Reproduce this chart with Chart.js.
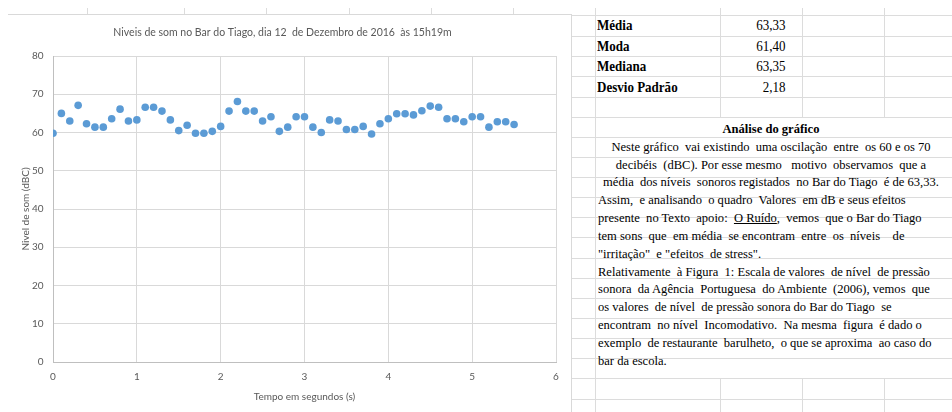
<!DOCTYPE html>
<html lang="pt">
<head>
<meta charset="utf-8">
<script src="https://cdn.jsdelivr.net/npm/chart.js@4.4.1/dist/chart.umd.min.js"></script>
<style>
  html, body { margin: 0; padding: 0; background: #fff; }
  body { width: 952px; height: 412px; position: relative; overflow: hidden; }
  .vl { position: absolute; width: 1px; background: #dcdcdc; }
  .hl { position: absolute; height: 1px; background: #dcdcdc; }
  #chartBox {
    position: absolute; left: 8px; top: 14px; width: 563px; height: 398px;
    border-top: 1px solid #d9d9d9; border-right: 1px solid #d9d9d9; background: #fff;
  }
  #chartWrap { position: absolute; left: 1px; top: 0; width: 562px; height: 397px; }
  .txt {
    position: absolute; font-family: "Liberation Serif", "Times New Roman", serif;
    color: #000; white-space: pre; transform: scaleX(0.93);
  }
  .lbl { left: 597px; font-size: 14px; font-weight: bold; line-height: 20px; transform-origin: left top; }
  .val { right: 167px; font-size: 14px; line-height: 20px; transform-origin: right top; }
  #analise {
    left: 598px; top: 120px; width: 372px; font-size: 13.5px; line-height: 17.82px;
    transform-origin: left top;
  }
  #analise div.c { text-align: center; }
</style>
</head>
<body>
<div id="grid"></div>
<div id="chartBox"><div id="chartWrap"><canvas id="somChart"></canvas></div></div>

<div id="stats"></div>

<div class="txt" id="analise"><div class="c"><b>Análise do gráfico</b></div><div class="c">Neste gráfico  vai existindo  uma oscilação  entre  os 60 e os 70</div><div class="c">decibéis  (dBC). Por esse mesmo   motivo  observamos  que a</div><div class="c">média  dos níveis  sonoros registados  no Bar do Tiago  é de 63,33.</div><div>Assim,  e analisando  o quadro  Valores  em dB e seus efeitos</div><div>presente  no Texto  apoio:  <u>O Ruído</u>,  vemos  que o Bar do Tiago</div><div>tem sons  que  em média  se encontram  entre  os  níveis    de</div><div>"irritação"  e "efeitos  de stress".</div><div>Relativamente  à Figura  1: Escala de valores  de nível  de pressão</div><div>sonora  da Agência  Portuguesa  do Ambiente  (2006), vemos  que</div><div>os valores  de nível  de pressão sonora do Bar do Tiago  se</div><div>encontram  no nível  Incomodativo.  Na mesma  figura  é dado o</div><div>exemplo  de restaurante  barulheto,  o que se aproxima  ao caso do</div><div>bar da escola.</div></div>

<script>
// Dados do gráfico
const tempos = [
  0, 0.1, 0.2, 0.3, 0.4, 0.5, 0.6, 0.7, 0.8, 0.9,
  1, 1.1, 1.2, 1.3, 1.4, 1.5, 1.6, 1.7, 1.8, 1.9,
  2, 2.1, 2.2, 2.3, 2.4, 2.5, 2.6, 2.7, 2.8, 2.9,
  3, 3.1, 3.2, 3.3, 3.4, 3.5, 3.6, 3.7, 3.8, 3.9,
  4, 4.1, 4.2, 4.3, 4.4, 4.5, 4.6, 4.7, 4.8, 4.9,
  5, 5.1, 5.2, 5.3, 5.4, 5.5,
];
const niveis = [
  59.8, 65.0, 63.0, 67.1, 62.3, 61.4, 61.4, 63.6, 66.1, 63.0,
  63.3, 66.6, 66.6, 65.6, 63.3, 60.5, 61.9, 59.8, 59.8, 60.3,
  61.6, 65.6, 68.1, 65.6, 65.6, 63.0, 64.1, 60.3, 61.4, 64.1,
  64.1, 61.4, 60.0, 63.3, 63.0, 60.8, 60.8, 61.6, 59.6, 62.3,
  63.6, 64.9, 64.9, 64.6, 65.7, 66.9, 66.6, 63.6, 63.6, 62.8,
  64.1, 64.1, 61.4, 62.8, 62.8, 62.1,
];
const xTicks = [0, 1, 2, 3, 4, 5, 6];
const yTicks = [0, 10, 20, 30, 40, 50, 60, 70, 80];

const tituloGrafico = "Niveis de som no Bar do Tiago, dia 12  de Dezembro de 2016  às 15h19m";
const tituloX = "Tempo em segundos (s)";
const tituloY = "Nivel de som (dBC)";

const estatLabels = ["Média", "Moda", "Mediana", "Desvio Padrão"];
const estatValores = ["63,33", "61,40", "63,35", "2,18"];

// Grelha da folha de cálculo (fundo)
const grid = document.getElementById("grid");
function linha(cls, x, y, len) {
  const d = document.createElement("div");
  d.className = cls;
  d.style.left = x + "px";
  d.style.top = y + "px";
  if (cls === "vl") d.style.height = len + "px"; else d.style.width = len + "px";
  grid.appendChild(d);
}
[87, 184, 266, 349, 431, 513].forEach((x) => linha("vl", x, 8, 6));
linha("vl", 595, 8, 404);
[720, 802, 884].forEach((x) => { linha("vl", x, 8, 109); linha("vl", x, 378, 34); });
[15, 36, 56, 76, 97, 117, 137, 157, 177, 197, 217, 237, 258, 278, 298, 318, 338, 358, 378, 399]
  .forEach((y) => linha("hl", 572, y, 380));

// Quadro de estatísticas
const stats = document.getElementById("stats");
const statTops = [16, 36.6, 57, 77.6];
estatLabels.forEach((l, i) => {
  const a = document.createElement("div");
  a.className = "txt lbl";
  a.style.top = statTops[i] + "px";
  a.textContent = l;
  stats.appendChild(a);
  const b = document.createElement("div");
  b.className = "txt val";
  b.style.top = statTops[i] + "px";
  b.textContent = estatValores[i];
  stats.appendChild(b);
});

// Gráfico
const fonte = "Lato, 'Open Sans', sans-serif";
const ctx = document.getElementById("somChart").getContext("2d");
new Chart(ctx, {
  type: "scatter",
  data: {
    datasets: [
      {
        label: "Nivel de som",
        data: tempos.map((t, i) => ({ x: t, y: niveis[i] })),
        backgroundColor: "#5B9BD5",
        borderColor: "#5B9BD5",
        borderWidth: 0,
        pointRadius: 3.8,
      },
    ],
  },
  options: {
    responsive: true,
    maintainAspectRatio: false,
    animation: false,
    layout: { padding: { left: 0, right: 15, top: 0, bottom: 0 } },
    plugins: {
      legend: { display: false },
      tooltip: { enabled: false },
      title: {
        display: true,
        text: tituloGrafico,
        color: "#595959",
        font: { family: fonte, size: 10.5, weight: "normal" },
        padding: { top: 11.7, bottom: 16.7 },
      },
    },
    scales: {
      x: {
        type: "linear",
        min: xTicks[0],
        max: xTicks[xTicks.length - 1],
        afterBuildTicks: (s) => { s.ticks = xTicks.map((v) => ({ value: v })); },
        afterFit: (s) => { s.height = 50; },
        ticks: { padding: 9, color: "#595959", font: { family: fonte, size: 10 } },
        grid: { color: "#d9d9d9", drawTicks: false },
        border: { color: "#bfbfbf" },
        title: {
          display: true,
          text: tituloX,
          color: "#595959",
          font: { family: fonte, size: 10 },
          padding: { top: 0, bottom: 9 },
        },
      },
      y: {
        min: yTicks[0],
        max: yTicks[yTicks.length - 1],
        afterBuildTicks: (s) => { s.ticks = yTicks.map((v) => ({ value: v })); },
        afterFit: (s) => { s.width = 44; },
        ticks: { padding: 9.5, color: "#595959", font: { family: fonte, size: 10 } },
        grid: { color: "#d9d9d9", drawTicks: false },
        border: { color: "#bfbfbf" },
        title: {
          display: true,
          text: tituloY,
          color: "#595959",
          font: { family: fonte, size: 10 },
          padding: { top: 11, bottom: 0 },
        },
      },
    },
  },
});
</script>
</body>
</html>
